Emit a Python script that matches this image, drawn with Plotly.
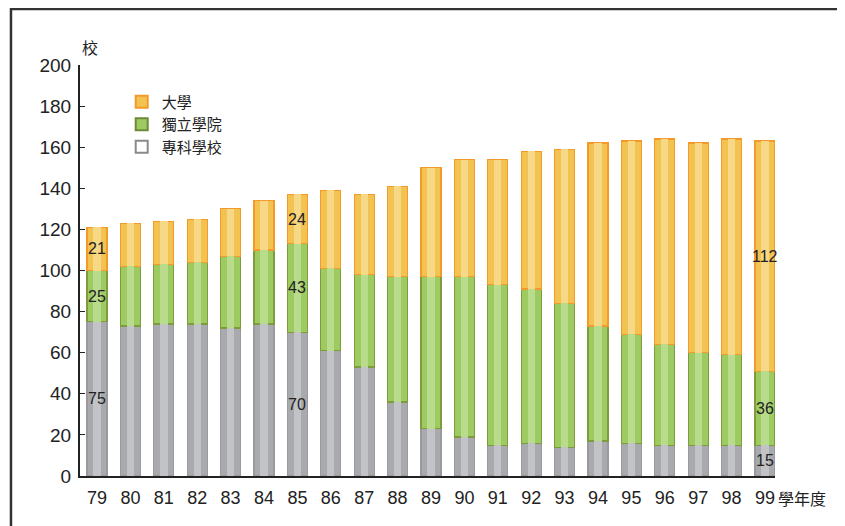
import plotly.graph_objects as go

years = ["79", "80", "81", "82", "83", "84", "85", "86", "87", "88", "89",
         "90", "91", "92", "93", "94", "95", "96", "97", "98", "99"]
junior_college = [75, 73, 74, 74, 72, 74, 70, 61, 53, 36, 23,
                  19, 15, 16, 14, 17, 16, 15, 15, 15, 15]
independent_college = [25, 29, 29, 30, 35, 36, 43, 40, 45, 61, 74,
                       78, 78, 75, 70, 56, 53, 49, 45, 44, 36]
university = [21, 21, 21, 21, 23, 24, 24, 38, 39, 44, 53,
              57, 61, 67, 75, 89, 94, 100, 102, 105, 112]
labeled_years = ["79", "85", "99"]

names = ["專科學校", "獨立學院", "大學"]
series = [junior_college, independent_college, university]
fills = ["#A9AAAE", "#9DCB62", "#F3C352"]
lines = ["#9A9A9E", "#7F9C3C", "#F49A2A"]
highlights = ["#C2C3C6", "#B9DC8C", "#F6D887"]

NUM_FONT = "Liberation Sans, Arial, sans-serif"
CJK_FONT = "Noto Sans CJK TC, Noto Sans CJK SC, sans-serif"

fig = go.Figure()
for name, vals, fc, lc in zip(names, series, fills, lines):
    fig.add_trace(go.Bar(
        x=years, y=vals, name=name, width=0.6, showlegend=False,
        marker=dict(color=fc, line=dict(color=lc, width=1.2)),
        hoverinfo="skip",
    ))
# lighter centre stripe (drawn on an overlaying axis so it stacks separately)
for name, vals, hc in zip(names, series, highlights):
    fig.add_trace(go.Bar(
        x=years, y=vals, width=0.22, showlegend=False, xaxis="x2",
        marker=dict(color=hc, line=dict(width=0)), hoverinfo="skip",
    ))

# legend entries
legend_items = [("大學", "#F3C352", "#F49A2A"),
                ("獨立學院", "#9DCB62", "#6F8A36"),
                ("專科學校", "#FFFFFF", "#8A8A8A")]
for name, fc, lc in legend_items:
    fig.add_trace(go.Scatter(
        x=[None], y=[None], mode="markers", name=name, legendgroup=name,
        marker=dict(symbol="square", size=11, color=fc, line=dict(color=lc, width=1.2)),
    ))

# value labels centred in each segment of the labelled years
annotations = []
for y in labeled_years:
    i = years.index(y)
    base = 0
    for vals in series:
        v = vals[i]
        annotations.append(dict(
            x=i, y=base + v / 2, xref="x", yref="y", text=str(v), showarrow=False,
            xanchor="center", yanchor="middle",
            font=dict(family=NUM_FONT, size=16, color="#222222")))
        base += v

annotations += [
    dict(text="校", xref="paper", yref="paper", x=0.0, y=1.01,
         xanchor="left", yanchor="bottom", showarrow=False,
         font=dict(family=CJK_FONT, size=16, color="#222222")),
    dict(text="學年度", xref="paper", yref="paper", x=1.0, y=-0.02,
         xanchor="left", yanchor="top", showarrow=False, xshift=1,
         font=dict(family=CJK_FONT, size=16, color="#222222")),
]

x_range = [-0.51, 20.3]
fig.update_layout(
    width=837, height=518,
    margin=dict(l=72, r=70, t=57, b=50),
    paper_bgcolor="white", plot_bgcolor="white",
    barmode="stack", bargap=0.4,
    showlegend=True,
    legend=dict(x=0.06, y=0.95, xanchor="left", yanchor="top",
                traceorder="normal", bgcolor="rgba(0,0,0,0)",
                font=dict(family=CJK_FONT, size=15, color="#222222"),
                itemsizing="constant", tracegroupgap=5, itemwidth=30),
    xaxis=dict(type="category", range=x_range, showgrid=False, zeroline=False,
               showline=True, linecolor="#222222", linewidth=2, ticks="",
               tickfont=dict(family=NUM_FONT, size=18, color="#222222"),
               ticklabelstandoff=4),
    xaxis2=dict(type="category", range=x_range, overlaying="x", visible=False),
    yaxis=dict(range=[0, 200], dtick=20, showgrid=False, zeroline=False,
               showline=True, linecolor="#222222", linewidth=2,
               ticks="inside", ticklen=5, tickcolor="#222222",
               tickfont=dict(family=NUM_FONT, size=19, color="#222222"),
               ticklabelstandoff=3),
    annotations=annotations,
    shapes=[
        dict(type="rect", xref="paper", yref="paper",
             x0=-0.0993, x1=1.12, y0=-0.16, y1=1.136,
             line=dict(color="#333333", width=2.5), layer="below"),
    ],
)

fig.write_html("out.html")
